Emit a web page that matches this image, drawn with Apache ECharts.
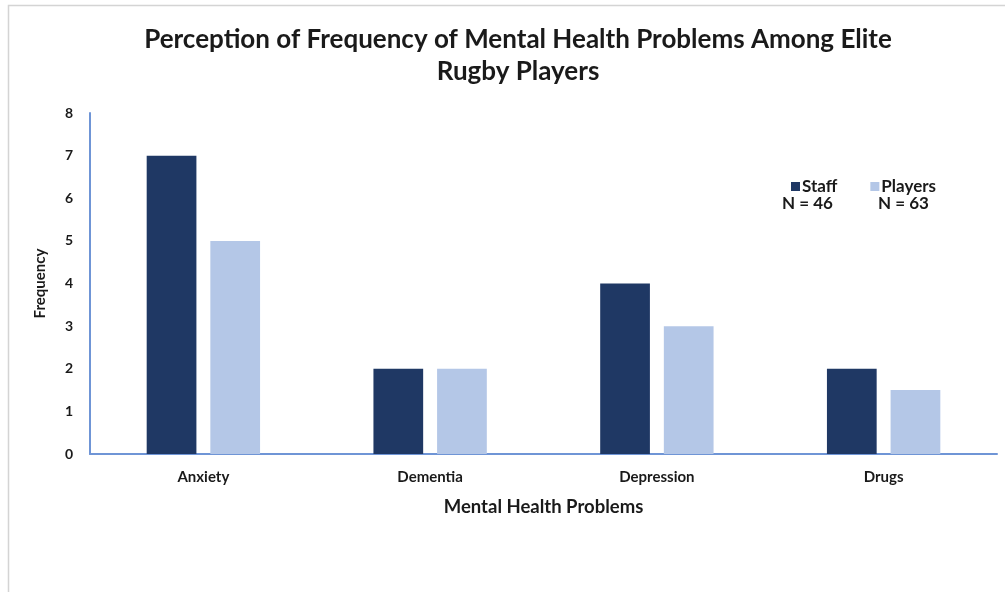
<!DOCTYPE html>
<html><head><meta charset="utf-8">
<script src="https://cdn.jsdelivr.net/npm/echarts@6/dist/echarts.min.js"></script>
<style>html,body{margin:0;padding:0;background:#fff}#c{width:1005px;height:592px}</style>
</head><body><div id="c"></div>
<script>
const categories = ['Anxiety', 'Dementia', 'Depression', 'Drugs'];
const staffValues = [7, 2, 4, 2];
const playerValues = [5, 2, 3, 1.5];
const seriesNames = ['Staff', 'Players'];
const sampleSizes = ['N = 46', 'N = 63'];
const yTicks = [0, 1, 2, 3, 4, 5, 6, 7, 8];

const FONT = 'Lato, "Open Sans", sans-serif';
const chart = echarts.init(document.getElementById('c'));
chart.setOption({
  animation: false,
  textStyle: { fontFamily: FONT },
  title: {
    text: 'Perception of Frequency of Mental Health Problems Among Elite\nRugby Players',
    left: 513, top: 19, textAlign: 'center',
    textStyle: { fontFamily: FONT, fontSize: 26, fontWeight: 'bold', color: '#1a1a1a', lineHeight: 32 }
  },
  legend: {
    data: seriesNames,
    left: 786, top: 173, itemGap: 33,
    itemWidth: 9, itemHeight: 9,
    icon: 'rect',
    textStyle: { fontFamily: FONT, fontSize: 17, fontWeight: 'bold', color: '#1a1a1a', padding: [0, 0, 0, -3] }
  },
  graphic: [
    { type: 'rect', shape: { x: 8.5, y: 5.5, width: 1100, height: 700 }, style: { fill: 'none', stroke: '#d4d4d4', lineWidth: 1.5 }, silent: true },
    { type: 'text', left: 782, top: 195, style: { text: sampleSizes[0], font: 'bold 17px ' + FONT, fill: '#1a1a1a' } },
    { type: 'text', left: 878, top: 195, style: { text: sampleSizes[1], font: 'bold 17px ' + FONT, fill: '#1a1a1a' } }
  ],
  grid: { left: 90, right: 8, top: 113, bottom: 138 },
  xAxis: {
    type: 'category', data: categories,
    name: 'Mental Health Problems', nameLocation: 'middle', nameGap: 44,
    nameTextStyle: { fontFamily: FONT, fontSize: 18.5, fontWeight: 'bold', color: '#1a1a1a' },
    axisLine: { lineStyle: { color: '#6f95d6', width: 2 } },
    axisTick: { show: false },
    axisLabel: { fontFamily: FONT, fontSize: 15, fontWeight: 'bold', color: '#1a1a1a', margin: 16 }
  },
  yAxis: {
    type: 'value', min: 0, max: 8, interval: 1,
    name: 'Frequency', nameLocation: 'middle', nameGap: 42,
    nameTextStyle: { fontFamily: FONT, fontSize: 15, fontWeight: 'bold', color: '#1a1a1a' },
    axisLine: { show: true, lineStyle: { color: '#6f95d6', width: 2 } },
    axisTick: { show: false },
    splitLine: { show: false },
    axisLabel: { fontFamily: FONT, fontSize: 14, fontWeight: 'bold', color: '#1a1a1a', margin: 17,
      formatter: v => yTicks.includes(v) ? String(v) : '' }
  },
  series: [
    { name: seriesNames[0], type: 'bar', data: staffValues, itemStyle: { color: '#1f3864' },
      barGap: '28%', barCategoryGap: '50%' },
    { name: seriesNames[1], type: 'bar', data: playerValues, itemStyle: { color: '#b4c7e7' } }
  ]
});
</script></body></html>
